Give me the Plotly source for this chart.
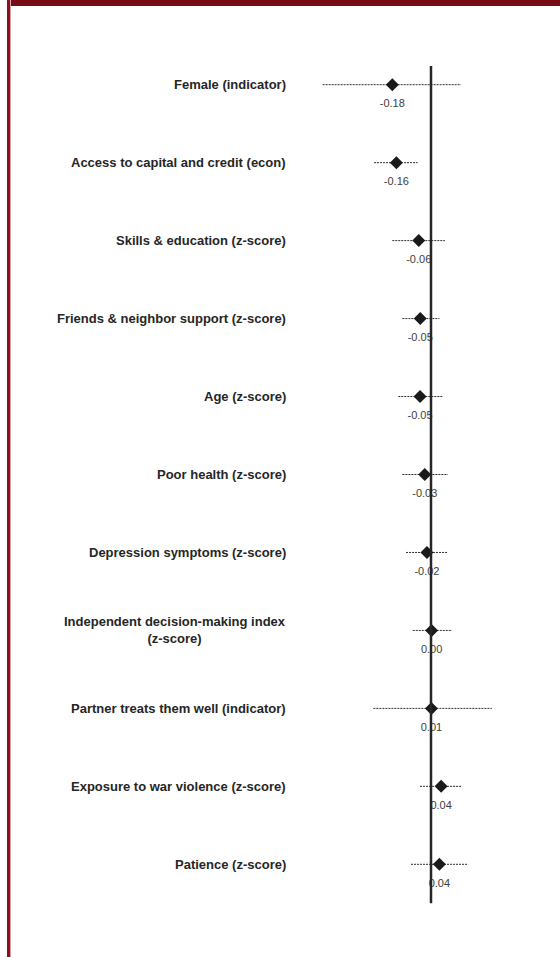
import plotly.graph_objects as go

# ---- data ----
categories = [
    "Female (indicator)",
    "Access to capital and credit (econ)",
    "Skills & education (z-score)",
    "Friends & neighbor support (z-score)",
    "Age (z-score)",
    "Poor health (z-score)",
    "Depression symptoms (z-score)",
    "Independent decision-making index<br>(z-score)",
    "Partner treats them well (indicator)",
    "Exposure to war violence (z-score)",
    "Patience (z-score)",
]
estimates = [-0.180, -0.161, -0.057, -0.050, -0.051, -0.029, -0.019, 0.003, 0.002, 0.047, 0.039]
ci_low = [-0.504, -0.265, -0.180, -0.133, -0.152, -0.133, -0.116, -0.085, -0.268, -0.051, -0.093]
ci_high = [0.140, -0.062, 0.065, 0.039, 0.054, 0.079, 0.079, 0.098, 0.283, 0.143, 0.173]
value_labels = ["-0.18", "-0.16", "-0.06", "-0.05", "-0.05", "-0.03", "-0.02", "0.00", "0.01", "0.04", "0.04"]

W, H = 560, 957
ZERO_PX = 431.0
XSCALE = 215.0     # px per unit
Y0_PX = 84.7
YSTEP = 77.96      # px per row

pos = list(range(len(categories)))

fig = go.Figure()

# confidence intervals (dotted)
cx, cy = [], []
for i, lo, hi in zip(pos, ci_low, ci_high):
    cx += [lo, hi, None]
    cy += [i, i, None]
fig.add_trace(go.Scatter(
    x=cx, y=cy, mode="lines",
    line=dict(color="#2e2e2e", width=1, dash="2px,1px"),
    hoverinfo="skip", showlegend=False,
))

# value labels
fig.add_trace(go.Scatter(
    x=estimates, y=[p + 0.25 for p in pos], mode="text",
    text=value_labels, textposition="middle center",
    textfont=dict(family="Liberation Sans, Arial, sans-serif", size=11, color="#404040"),
    hoverinfo="skip", showlegend=False,
))

# point estimates
fig.add_trace(go.Scatter(
    x=estimates, y=pos, mode="markers",
    marker=dict(symbol="diamond", size=10, color="#1a1a1a", line=dict(width=0)),
    showlegend=False,
))

# zero line
fig.add_shape(type="line", xref="x", yref="y", x0=0, x1=0, y0=-0.24, y1=10.5,
              line=dict(color="#262626", width=2.5), layer="above")

# borders
fig.add_shape(type="rect", xref="paper", yref="paper", x0=7 / W, x1=1.0, y0=1 - 6 / H, y1=1.0,
              fillcolor="#780c16", line=dict(width=0), layer="above")
fig.add_shape(type="rect", xref="paper", yref="paper", x0=7 / W, x1=10 / W, y0=0, y1=1.0,
              fillcolor="#8a1220", line=dict(width=0), layer="above")
fig.add_shape(type="rect", xref="paper", yref="paper", x0=10 / W, x1=11 / W, y0=0, y1=1.0,
              fillcolor="#d9a0a6", line=dict(width=0), layer="above")

# category labels
for i, c in zip(pos, categories):
    fig.add_annotation(
        x=288 / W, xref="paper", y=i, yref="y",
        text=f"<b>{c}</b>", showarrow=False,
        xanchor="right", yanchor="middle", align="center",
        font=dict(family="Liberation Sans, Arial, sans-serif", size=13, color="#262626"),
    )

fig.update_layout(
    width=W, height=H,
    margin=dict(l=0, r=0, t=0, b=0),
    paper_bgcolor="white", plot_bgcolor="white",
    xaxis=dict(range=[-ZERO_PX / XSCALE, (W - ZERO_PX) / XSCALE], visible=False, fixedrange=True),
    yaxis=dict(range=[(H - Y0_PX) / YSTEP, -Y0_PX / YSTEP], visible=False, fixedrange=True),
    showlegend=False,
)

fig.write_html("out.html", config={"displayModeBar": False},
               post_script="document.body.style.margin='0px';document.body.style.overflow='hidden';")
